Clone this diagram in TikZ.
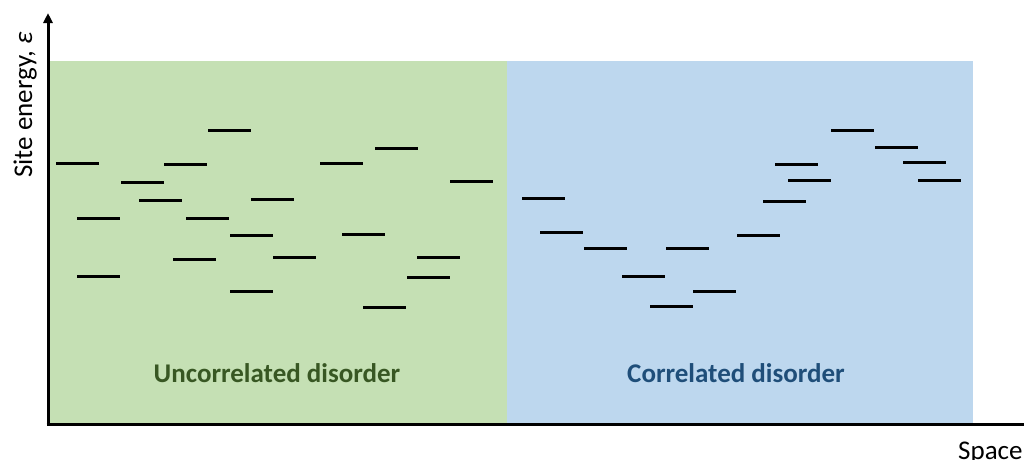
\documentclass[tikz,border=0pt]{standalone}
\usepackage{fontspec}
\setmainfont{Carlito}
\usetikzlibrary{arrows.meta}
\definecolor{greenbg}{HTML}{C5E0B4}
\definecolor{bluebg}{HTML}{BDD7EE}
\definecolor{greentxt}{HTML}{385723}
\definecolor{bluetxt}{HTML}{1F4E79}
\tikzset{
  level/.style={line width=3pt},
  axisline/.style={line width=3pt},
  lbl/.style={font=\fontsize{27}{30}\selectfont, inner sep=0pt},
}
\begin{document}
\begin{tikzpicture}[x=1pt,y=-1pt]
\useasboundingbox (0,0) rectangle (1024,459);
\fill[greenbg] (48,61) rectangle (507,424);
\fill[bluebg] (507,61) rectangle (973,424);
% uncorrelated levels
\foreach \x/\y in {56/163,121/182,164/164,208/130,139/200,77/218,186/218,251/199,230/235,320/163,375/148,450/181,342/234,173/259,273/257,77/276,230/291,363/307,417/257,407/277}
  \draw[level] (\x,\y) -- ++(43,0);
% correlated levels
\foreach \x/\y in {522/198,540/232,584/248,622/276,650/306,666/248,693/291,737/235,763/201,788/180,775/164,831/130,875/147,903/162,918/180}
  \draw[level] (\x,\y) -- ++(43,0);
% axes
\coordinate (origin) at (48,424);
\coordinate (ytop) at (48,13);
\coordinate (xend) at (1024,424);
\draw[axisline,-{Triangle[length=10pt,width=9pt]}] ([yshift=1.5pt]origin) -- (ytop);
\draw[axisline] ([xshift=-1.5pt]origin) -- (xend);
% labels
\node[lbl, font=\fontsize{27}{30}\selectfont\bfseries, text=greentxt, anchor=base] (unc) at (277,382) {Uncorrelated disorder};
\node[lbl, font=\fontsize{27}{30}\selectfont\bfseries, text=bluetxt, anchor=base] (cor) at (736,382) {Correlated disorder};
\node[lbl, rotate=90, anchor=base] (ylab) at (32,105) {Site energy, \textit{ε}};
\node[lbl, anchor=base west] (xlab) at (958,459) {Space};
\end{tikzpicture}
\end{document}
